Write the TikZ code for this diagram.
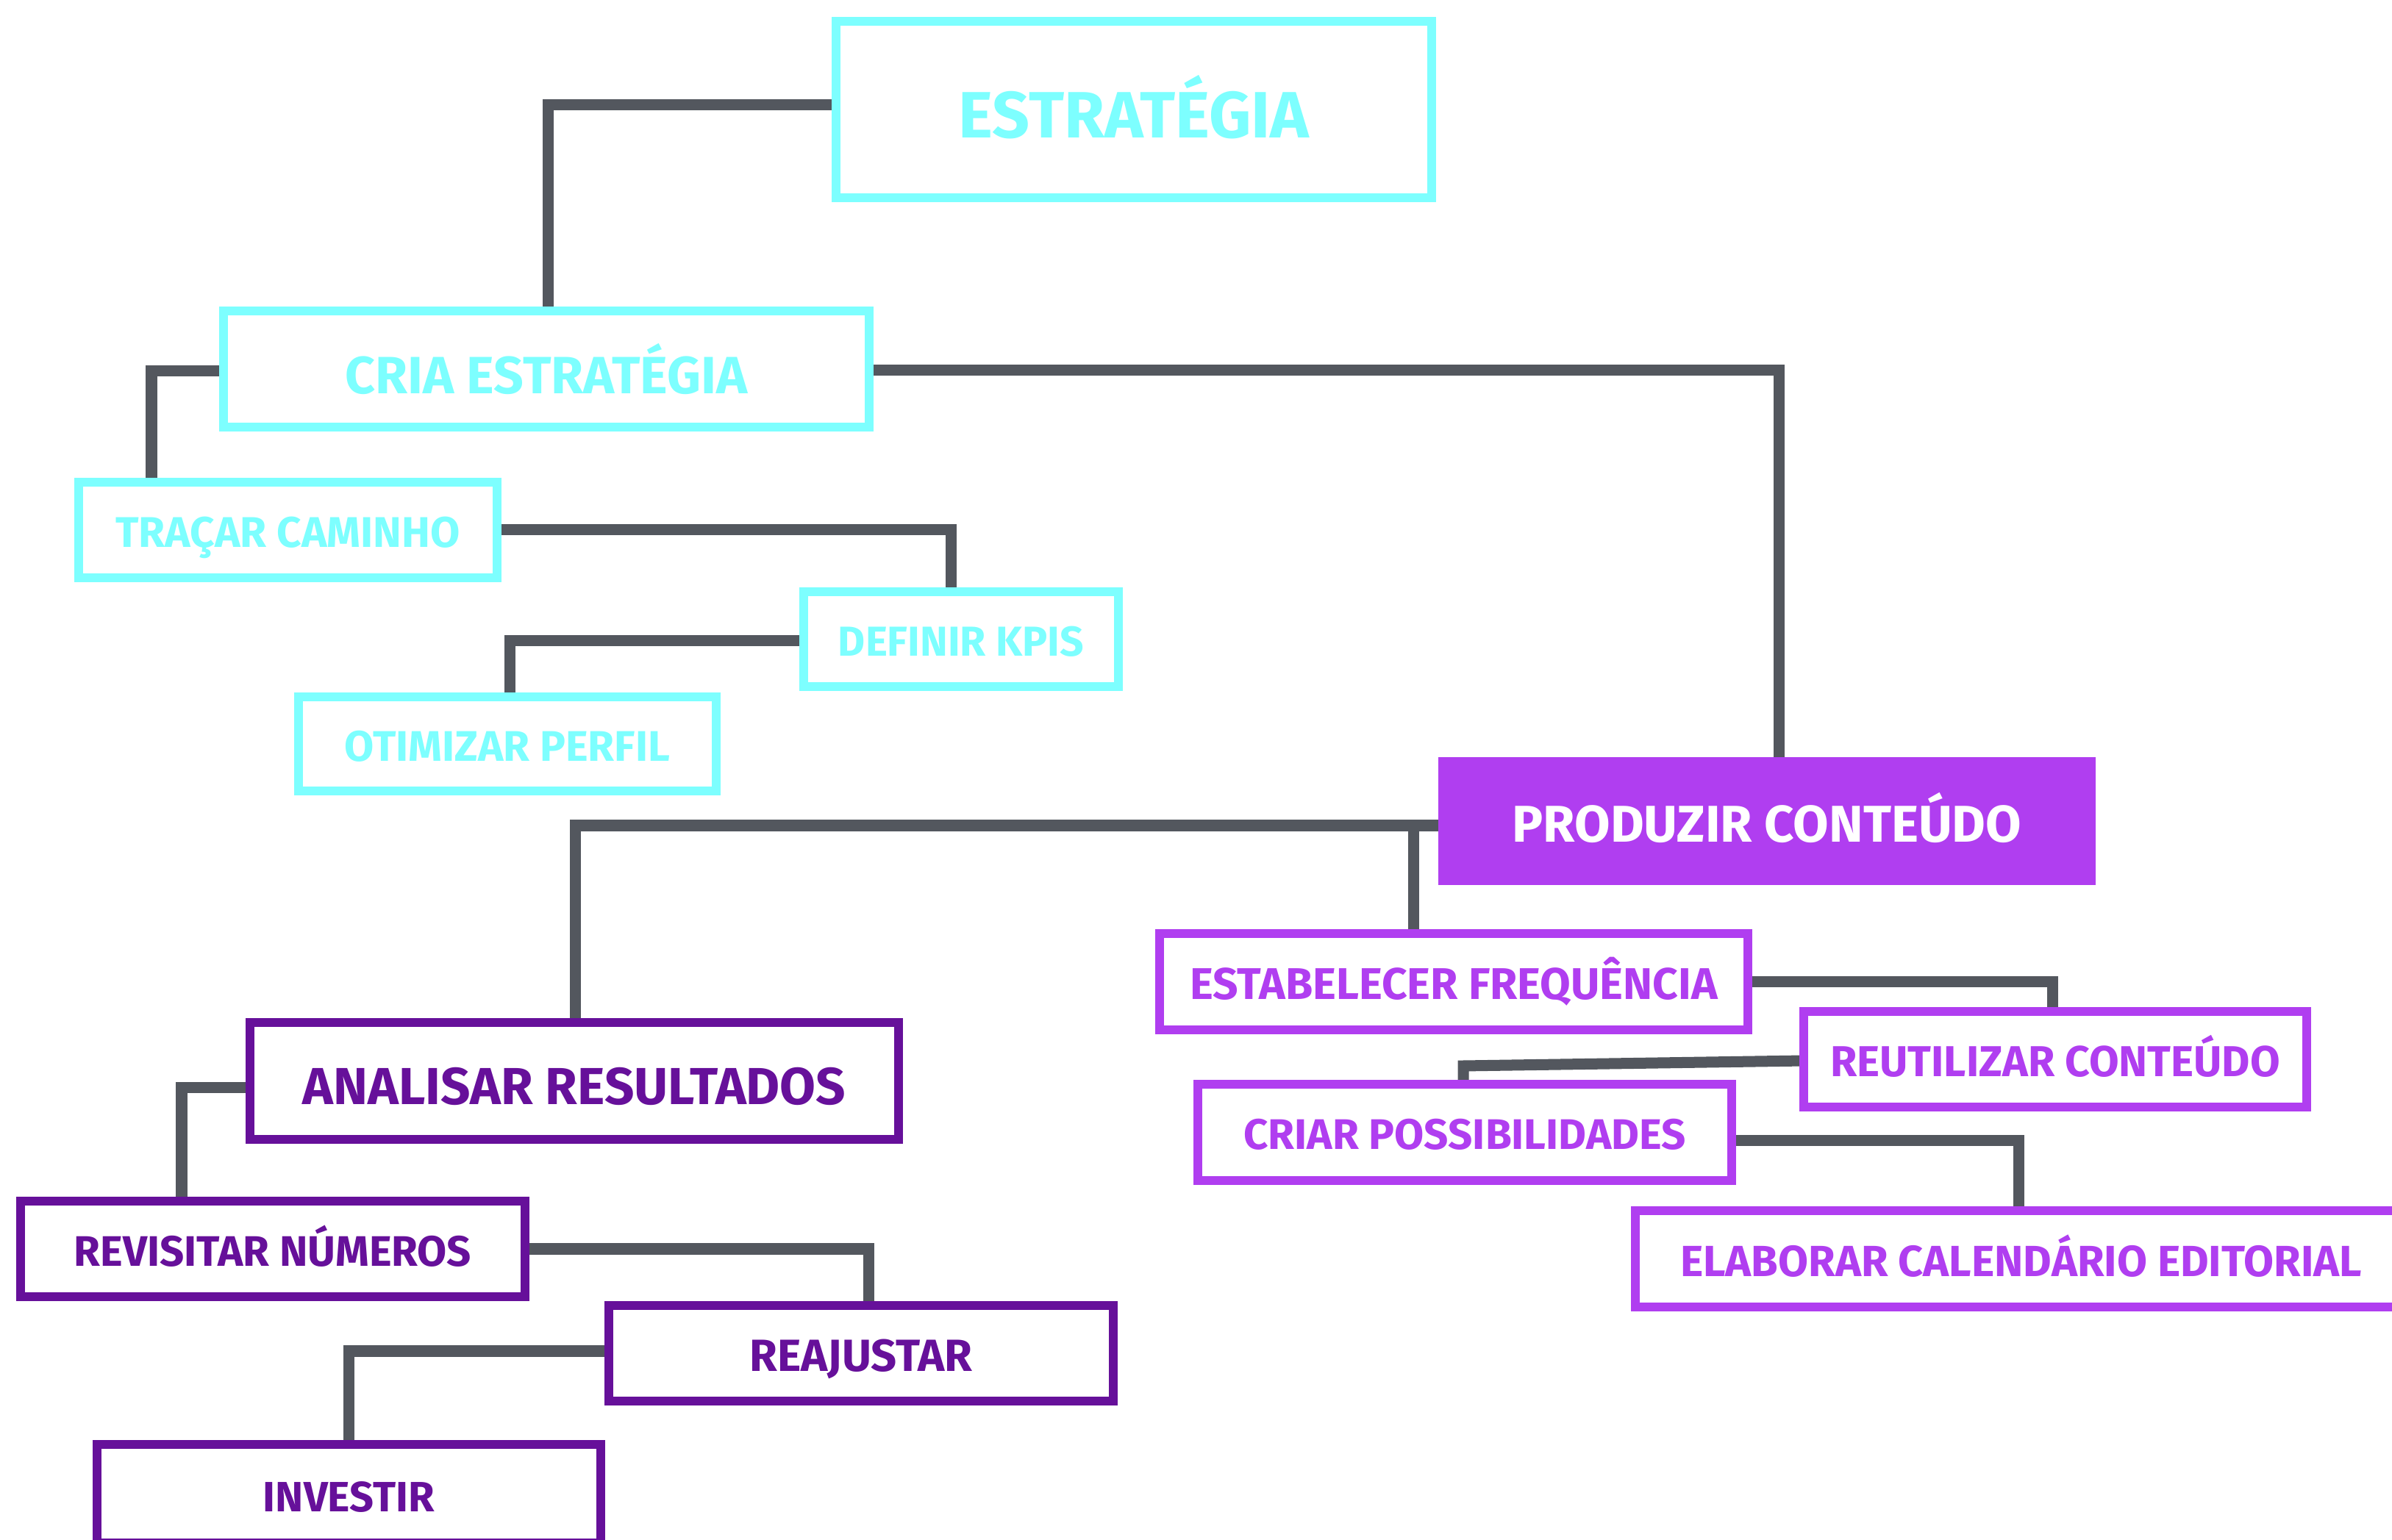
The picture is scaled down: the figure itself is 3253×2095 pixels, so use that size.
\documentclass[tikz,border=0pt]{standalone}
\usepackage{fontspec}
\setmainfont{Fira Sans}
\usepackage{graphicx}
\definecolor{cy}{HTML}{7DFFFF}
\definecolor{pm}{HTML}{B03EF0}
\definecolor{pd}{HTML}{66109A}
\definecolor{gr}{HTML}{53575E}
% #1: how far the caps sit below the box centre (doubled), #2: text width, #3: text
\newcommand\lbl[3][0.06cm]{\raisebox{0pt}[\dimexpr\height+#1\relax][0pt]{\resizebox{#2}{!}{\bfseries\vphantom{X}\smash{#3}}}}
\pgfdeclarelayer{bg}
\pgfsetlayers{bg,main}
\begin{document}
\begin{tikzpicture}[x=0.01cm,y=-0.01cm,
  box/.style={draw, line width=0.125cm, fill=white, inner sep=0pt, outer sep=0pt, rectangle},
  cbox/.style={box, draw=cy, text=cy},
  mbox/.style={box, draw=pm, text=pm},
  dbox/.style={box, draw=pd, text=pd},
  fbox/.style={box, draw=pm, fill=pm, text=white},
  conn/.style={draw=gr, line width=0.15cm, line join=miter, line cap=butt}]
\useasboundingbox (0,0) rectangle (3253,2095);

\node[cbox, minimum width=8.095cm, minimum height=2.395cm] (est) at (1542,149) {\lbl[0.16cm]{4.76cm}{ESTRATÉGIA}};
\node[cbox, minimum width=8.775cm, minimum height=1.575cm] (cria) at (743,502) {\lbl[0.18cm]{5.46cm}{CRIA ESTRATÉGIA}};
\node[cbox, minimum width=5.685cm, minimum height=1.295cm] (tracar) at (391.5,721) {\lbl{4.68cm}{TRAÇAR CAMINHO}};
\node[cbox, minimum width=4.275cm, minimum height=1.285cm] (kpis) at (1307,869.5) {\lbl{3.34cm}{DEFINIR KPIS}};
\node[cbox, minimum width=5.675cm, minimum height=1.275cm] (otim) at (690,1012) {\lbl{4.42cm}{OTIMIZAR PERFIL}};

\node[fbox, minimum width=8.815cm, minimum height=1.615cm] (prod) at (2403,1117) {\lbl[0.08cm]{6.92cm}{PRODUZIR CONTEÚDO}};
\node[mbox, minimum width=7.995cm, minimum height=1.305cm] (estab) at (1977,1335.5) {\lbl{7.17cm}{ESTABELECER FREQUÊNCIA}};
\node[mbox, minimum width=6.835cm, minimum height=1.295cm] (reut) at (2795,1441) {\lbl{6.11cm}{REUTILIZAR CONTEÚDO}};
\node[mbox, minimum width=7.255cm, minimum height=1.305cm] (criar) at (1992,1540.5) {\lbl{6.01cm}{CRIAR POSSIBILIDADES}};
\node[mbox, minimum width=10.485cm, minimum height=1.305cm] (elab) at (2748.5,1712.5) {\lbl{9.26cm}{ELABORAR CALENDÁRIO EDITORIAL}};

\node[dbox, minimum width=8.815cm, minimum height=1.585cm] (anal) at (781,1470.5) {\lbl[0.14cm]{7.38cm}{ANALISAR RESULTADOS}};
\node[dbox, minimum width=6.855cm, minimum height=1.295cm] (revis) at (371,1699) {\lbl{5.40cm}{REVISITAR NÚMEROS}};
\node[dbox, minimum width=6.855cm, minimum height=1.295cm] (reaj) at (1171,1841) {\lbl{3.03cm}{REAJUSTAR}};
\node[dbox, minimum width=6.845cm, minimum height=1.335cm] (inv) at (474.5,2032) {\lbl[0.1cm]{2.33cm}{INVESTIR}};

\begin{pgfonlayer}{bg}
\draw[conn] ([yshift=0.06cm]est.west) -| (cria.north -| 745,0);
\draw[conn] ([yshift=-0.03cm]cria.west) -| (tracar.north -| 206,0);
\draw[conn] ([yshift=-0.02cm]cria.east) -| (prod.north -| 2419,0);
\draw[conn] (tracar.east) -| (kpis.north -| 1293,0);
\draw[conn] ([yshift=-0.025cm]kpis.west) -| (otim.north -| 693,0);
\draw[conn] ([yshift=-0.06cm]prod.west) -| (anal.north -| 782,0);
\draw[conn] ([yshift=-0.06cm]prod.west) -| (estab.north -| 1922,0);
\draw[conn] (estab.east) -| (reut.north -| 2791,0);
\draw[conn] ([yshift=-0.02cm]reut.west) -- ++(-463,7) coordinate (ri) -- (ri |- criar.north);
\draw[conn] ([yshift=-0.105cm]criar.east) -| (elab.north -| 2745,0);
\draw[conn] ([yshift=-0.085cm]anal.west) -| (revis.north -| 247,0);
\draw[conn] (revis.east) -| (reaj.north -| 1181,0);
\draw[conn] ([yshift=0.03cm]reaj.west) -| (inv.north -| 474,0);
\end{pgfonlayer}
\end{tikzpicture}
\end{document}
